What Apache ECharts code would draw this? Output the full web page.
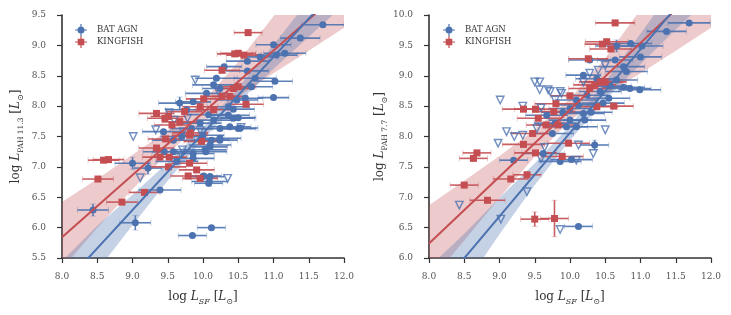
<!DOCTYPE html>
<html><head><meta charset="utf-8">
<script src="https://cdn.jsdelivr.net/npm/echarts@6/dist/echarts.min.js"></script>
<style>html,body{margin:0;padding:0;background:#fff}#c{width:731px;height:315px}</style>
</head><body><div id="c"></div>
<script>
// ---------- tick values ----------
const xTicks = [8.0, 8.5, 9.0, 9.5, 10.0, 10.5, 11.0, 11.5, 12.0];
const yTicksLeft = [5.5, 6.0, 6.5, 7.0, 7.5, 8.0, 8.5, 9.0, 9.5];
const yTicksRight = [6.0, 6.5, 7.0, 7.5, 8.0, 8.5, 9.0, 9.5, 10.0];

// ---------- LEFT panel (PAH 11.3) : [x, y, xerr, yerr] ----------
const leftBat = [
 [11.70,9.34,0.30,0.03],[11.38,9.12,0.28,0.03],[11.00,9.01,0.25,0.03],[11.16,8.87,0.30,0.03],
 [11.04,8.84,0.30,0.03],[10.81,8.81,0.25,0.03],[10.63,8.74,0.30,0.03],[10.30,8.65,0.25,0.03],
 [10.63,8.58,0.30,0.03],[10.19,8.46,0.30,0.03],[11.02,8.41,0.25,0.03],[10.74,8.46,0.30,0.03],
 [10.69,8.32,0.30,0.03],[11.00,8.14,0.22,0.03],[10.60,8.13,0.25,0.03],[10.48,8.10,0.30,0.03],
 [9.67,8.05,0.30,0.10],[9.86,8.07,0.25,0.03],[10.15,8.35,0.30,0.03],[10.24,8.29,0.25,0.03],
 [10.05,8.21,0.30,0.03],[10.36,7.99,0.30,0.03],[10.43,7.80,0.30,0.03],[10.50,7.63,0.25,0.03],
 [10.24,7.63,0.30,0.03],[10.38,7.66,0.30,0.03],[10.08,7.86,0.30,0.03],[9.96,7.72,0.30,0.03],
 [10.15,7.77,0.25,0.03],[9.77,7.94,0.30,0.03],[9.84,7.63,0.30,0.03],[10.00,7.52,0.30,0.03],
 [10.12,7.44,0.25,0.03],[10.24,7.44,0.25,0.03],[10.10,7.36,0.30,0.03],[10.03,7.28,0.30,0.03],
 [9.86,7.22,0.30,0.03],[9.58,7.25,0.30,0.03],[9.58,7.44,0.30,0.03],[9.70,7.50,0.30,0.03],
 [9.44,7.58,0.30,0.03],[10.04,7.25,0.30,0.03],[9.45,7.25,0.30,0.03],[9.86,7.14,0.30,0.03],
 [9.00,7.06,0.25,0.10],[9.22,6.98,0.20,0.10],[9.63,7.09,0.30,0.03],[10.01,6.85,0.25,0.03],
 [10.09,6.76,0.25,0.08],[9.39,6.62,0.30,0.03],[8.44,6.29,0.22,0.10],[9.04,6.08,0.22,0.12],
 [10.12,6.00,0.20,0.03],[9.85,5.87,0.20,0.03],[10.43,7.95,0.30,0.03],[10.50,7.81,0.25,0.03],
 [10.36,7.85,0.30,0.03],[10.53,7.64,0.25,0.03],[10.24,7.47,0.30,0.03],[10.10,7.33,0.25,0.03],
 [10.00,6.84,0.20,0.03],[10.10,6.84,0.20,0.03],[10.08,6.73,0.20,0.03]
];
const leftBatLimits = [
 [9.89,8.43],[9.01,7.50],[9.33,7.61],[9.52,7.89],[9.59,7.77],[9.78,7.80],[10.22,8.24],
 [9.96,7.60],[9.71,7.28],[9.11,6.82],[10.35,6.81],[9.72,7.58],[10.54,7.65],[9.68,7.22]
];
const leftKing = [
 [10.64,9.21,0.20,0.03],[10.50,8.87,0.25,0.03],[10.58,8.84,0.25,0.03],[10.45,8.86,0.25,0.03],
 [10.27,8.59,0.25,0.03],[10.61,8.03,0.25,0.03],[10.38,8.16,0.25,0.03],[10.43,8.29,0.25,0.03],
 [10.50,8.32,0.25,0.03],[10.27,8.16,0.25,0.03],[10.15,7.94,0.25,0.03],[9.96,7.99,0.25,0.03],
 [10.01,8.12,0.25,0.03],[9.34,7.88,0.25,0.03],[9.51,7.83,0.25,0.03],[9.67,7.74,0.25,0.03],
 [9.56,7.69,0.25,0.03],[9.74,7.91,0.25,0.03],[9.46,7.80,0.25,0.03],[9.82,7.56,0.25,0.03],
 [9.81,7.52,0.25,0.03],[9.98,7.42,0.25,0.03],[9.47,7.46,0.25,0.03],[9.34,7.31,0.25,0.03],
 [8.66,7.12,0.22,0.03],[8.59,7.11,0.22,0.03],[8.51,6.80,0.22,0.03],[8.85,6.42,0.22,0.03],
 [9.17,6.58,0.22,0.03],[9.39,7.16,0.25,0.03],[9.52,7.16,0.25,0.03],[9.51,7.00,0.25,0.03],
 [9.81,7.06,0.25,0.03],[9.91,6.95,0.25,0.03],[9.79,6.85,0.25,0.03],[9.96,6.81,0.25,0.03]
];
// fit lines and confidence bands (left)
const fitX = [8.0, 12.0];
const leftKingFitY = [5.84, 9.94];
const leftBatFitY = [5.03, 10.07];
const bandX = [8.0, 8.5, 9.0, 9.5, 10.0, 10.5, 11.0, 11.5, 12.0];
const leftKingUpper = [6.42, 6.80, 7.20, 7.60, 8.07, 8.73, 9.48, 10.23, 10.99];
const leftKingLower = [5.32, 6.00, 6.63, 7.22, 7.74, 8.15, 8.54, 8.91, 9.29];
const leftBatUpper = [5.45, 6.03, 6.54, 7.07, 7.65, 8.30, 9.01, 9.74, 10.47];
const leftBatLower = [4.53, 5.29, 6.04, 6.77, 7.45, 8.06, 8.61, 9.14, 9.67];

// ---------- RIGHT panel (PAH 7.7) ----------
const rightBat = [
 [11.69,9.87,0.30,0.03],[11.37,9.73,0.28,0.03],[10.86,9.53,0.30,0.03],[11.02,9.49,0.30,0.03],
 [10.66,9.49,0.30,0.10],[11.00,9.31,0.30,0.03],[10.64,9.26,0.25,0.03],[10.28,9.26,0.30,0.03],
 [10.76,9.15,0.30,0.03],[10.80,9.07,0.30,0.03],[10.19,9.01,0.25,0.03],[10.66,8.93,0.30,0.03],
 [10.57,8.83,0.30,0.03],[10.76,8.81,0.30,0.03],[10.99,8.77,0.30,0.03],[10.85,8.79,0.30,0.03],
 [10.43,8.74,0.30,0.03],[10.24,8.68,0.30,0.03],[10.09,8.60,0.30,0.03],[10.47,8.55,0.30,0.03],
 [10.00,8.46,0.30,0.03],[10.19,8.38,0.30,0.03],[9.67,8.35,0.30,0.03],[10.00,8.27,0.30,0.03],
 [10.21,8.27,0.30,0.03],[10.09,8.16,0.30,0.03],[9.95,8.16,0.30,0.03],[9.79,8.22,0.30,0.03],
 [10.35,7.86,0.20,0.08],[9.62,7.72,0.30,0.03],[9.20,7.61,0.20,0.03],[9.86,7.59,0.30,0.03],
 [10.02,7.62,0.30,0.03],[10.12,6.52,0.20,0.03],[10.55,8.63,0.30,0.03],[10.38,8.95,0.30,0.03],
 [9.90,8.40,0.30,0.03],[10.12,8.52,0.30,0.03],[10.30,8.40,0.30,0.03],[9.75,8.05,0.30,0.03]
];
const rightBatLimits = [
 [9.01,8.60],[8.98,7.89],[9.10,8.08],[9.21,8.00],[9.33,8.02],[9.33,8.50],[9.53,8.13],
 [9.50,8.90],[9.57,8.90],[9.57,8.77],[9.72,8.74],[9.86,8.74],[9.79,8.60],[10.19,8.90],
 [10.28,9.04],[10.40,9.09],[10.50,9.17],[10.50,8.11],[10.12,7.86],[10.33,7.72],[9.59,7.64],
 [10.09,7.61],[9.39,7.09],[8.43,6.87],[9.02,6.64],[9.86,6.47],[9.59,8.47],[9.64,7.82],
 [9.88,8.71],[9.69,8.77]
];
const rightKing = [
 [10.64,9.87,0.28,0.03],[10.52,9.56,0.30,0.03],[10.46,9.52,0.25,0.03],[10.58,9.44,0.30,0.03],
 [10.26,9.28,0.28,0.03],[10.43,8.90,0.30,0.03],[10.50,8.90,0.30,0.03],[10.28,8.79,0.30,0.03],
 [10.35,8.85,0.30,0.03],[10.62,8.50,0.28,0.03],[10.38,8.49,0.30,0.03],[10.00,8.67,0.28,0.03],
 [9.80,8.54,0.30,0.03],[9.77,8.41,0.30,0.03],[9.34,8.45,0.30,0.03],[9.51,8.45,0.30,0.03],
 [9.55,8.30,0.30,0.03],[9.66,8.19,0.28,0.03],[9.83,8.19,0.30,0.03],[9.47,8.05,0.30,0.03],
 [9.34,7.87,0.30,0.03],[9.98,7.89,0.30,0.03],[9.51,7.73,0.30,0.03],[9.89,7.67,0.30,0.03],
 [8.68,7.73,0.20,0.03],[8.63,7.64,0.20,0.03],[8.50,7.20,0.20,0.03],[9.16,7.30,0.25,0.03],
 [9.39,7.37,0.20,0.03],[8.83,6.95,0.25,0.03],[9.50,6.64,0.20,0.12],[9.78,6.65,0.20,0.30]
];
const rightKingFitY = [6.24, 10.64];
const rightBatFitY = [5.31, 10.81];
const rightKingUpper = [6.87, 7.27, 7.68, 8.11, 8.62, 9.29, 10.09, 10.89, 11.69];
const rightKingLower = [5.59, 6.29, 6.99, 7.67, 8.26, 8.69, 9.04, 9.41, 9.79];
const rightBatUpper = [5.85, 6.40, 6.99, 7.56, 8.18, 8.90, 9.69, 10.50, 11.31];
const rightBatLower = [4.66, 5.54, 6.39, 7.20, 7.94, 8.60, 9.19, 9.76, 10.31];

// ---------- styling ----------
const BLUE = '#4C72B0', RED = '#C44E52';
const BLUE_BAND = 'rgba(76,114,176,0.32)', RED_BAND = 'rgba(196,78,82,0.30)';
const SERIF = 'DejaVu Serif';

function makeErr(color){
  return function(params, api){
    const x=api.value(0), y=api.value(1), xe=api.value(2), ye=api.value(3);
    const L=api.coord([x-xe,y]), R=api.coord([x+xe,y]);
    const T=api.coord([x,y+ye]), B=api.coord([x,y-ye]);
    const bar={stroke:color,lineWidth:1.6,opacity:0.9};
    const cap={stroke:color,lineWidth:1,opacity:0.3};
    const k=3;
    return {type:'group',children:[
      {type:'line',shape:{x1:L[0],y1:L[1],x2:R[0],y2:R[1]},style:bar},
      {type:'line',shape:{x1:T[0],y1:T[1],x2:B[0],y2:B[1]},style:bar},
      {type:'line',shape:{x1:L[0],y1:L[1]-k,x2:L[0],y2:L[1]+k},style:cap},
      {type:'line',shape:{x1:R[0],y1:R[1]-k,x2:R[0],y2:R[1]+k},style:cap},
      {type:'line',shape:{x1:T[0]-k,y1:T[1],x2:T[0]+k,y2:T[1]},style:cap},
      {type:'line',shape:{x1:B[0]-k,y1:B[1],x2:B[0]+k,y2:B[1]},style:cap}
    ]};
  };
}
function makeBand(xs, up, lo, fill){
  return function(params, api){
    const pts=[];
    for(let i=0;i<xs.length;i++) pts.push(api.coord([xs[i],up[i]]));
    for(let i=xs.length-1;i>=0;i--) pts.push(api.coord([xs[i],lo[i]]));
    return {type:'polygon',shape:{points:pts},style:{fill:fill}};
  };
}
const zip = (xs, ys) => xs.map((v,i)=>[v, ys[i]]);

function panelSeries(idx, bat, lim, king, kFit, bFit, kUp, kLo, bUp, bLo){
  const ax = {xAxisIndex:idx, yAxisIndex:idx};
  return [
    Object.assign({type:'custom', name:'kband'+idx, clip:true, z:1, silent:true,
      renderItem: makeBand(bandX,kUp,kLo,RED_BAND), data:[[bandX[0],kUp[0]]]}, ax),
    Object.assign({type:'custom', name:'bband'+idx, clip:true, z:1, silent:true,
      renderItem: makeBand(bandX,bUp,bLo,BLUE_BAND), data:[[bandX[0],bUp[0]]]}, ax),
    Object.assign({type:'custom', name:'berr'+idx, clip:true, z:2,
      renderItem: makeErr(BLUE), data: bat}, ax),
    Object.assign({type:'custom', name:'kerr'+idx, clip:true, z:2,
      renderItem: makeErr(RED), data: king}, ax),
    Object.assign({type:'scatter', name:'BAT AGN', z:3, symbol:'circle', symbolSize:7,
      itemStyle:{color:BLUE, opacity:1}, data: bat.map(d=>[d[0],d[1]])}, ax),
    Object.assign({type:'scatter', name:'BAT AGN limits', z:3, symbol:'triangle', symbolRotate:180, symbolSize:7.5,
      itemStyle:{color:'rgba(255,255,255,0)', borderColor:BLUE, borderWidth:1.4}, data: lim}, ax),
    Object.assign({type:'scatter', name:'KINGFISH', z:3, symbol:'rect', symbolSize:7,
      itemStyle:{color:RED, opacity:1}, data: king.map(d=>[d[0],d[1]])}, ax),
    Object.assign({type:'line', name:'kfit'+idx, z:4, showSymbol:false, symbol:'none', silent:true,
      lineStyle:{color:RED,width:2}, data: zip(fitX,kFit)}, ax),
    Object.assign({type:'line', name:'bfit'+idx, z:4, showSymbol:false, symbol:'none', silent:true,
      lineStyle:{color:BLUE,width:2}, data: zip(fitX,bFit)}, ax)
  ];
}

const richName = {
  n:{fontFamily:SERIF,fontSize:12,color:'#333',lineHeight:18,verticalAlign:'middle'},
  i:{fontFamily:SERIF,fontSize:12,fontStyle:'italic',color:'#333',lineHeight:18,verticalAlign:'middle'},
  s:{fontFamily:SERIF,fontSize:8,fontStyle:'italic',color:'#333',lineHeight:9,verticalAlign:'bottom'},
  r:{fontFamily:SERIF,fontSize:7.5,color:'#333',lineHeight:9,verticalAlign:'bottom'}
};
function xAxisCfg(idx){
  return {type:'value', gridIndex:idx, min:xTicks[0], max:xTicks[xTicks.length-1], interval:0.5,
    name:'{n|log }{i|L}{s|SF}{n| [}{i|L}{s|⊙}{n|]}', nameLocation:'middle', nameGap:30,
    nameTextStyle:{rich:richName},
    axisLine:{onZero:false,lineStyle:{color:'#333',width:1.6}},
    axisTick:{show:true,length:5,lineStyle:{color:'#333',width:1.2}},
    axisLabel:{margin:14,fontFamily:SERIF,fontSize:9,color:'#555',formatter:v=>v.toFixed(1)},
    splitLine:{show:false}};
}
function yAxisCfg(idx, ticks, sub){
  return {type:'value', gridIndex:idx, min:ticks[0], max:ticks[ticks.length-1], interval:0.5,
    name:'{n|log }{i|L}{r|'+sub+'}{n| [}{i|L}{s|⊙}{n|]}', nameLocation:'middle', nameRotate:90, nameGap:37,
    nameTextStyle:{rich:richName},
    axisLine:{onZero:false,lineStyle:{color:'#333',width:1.6}},
    axisTick:{show:true,length:5,lineStyle:{color:'#333',width:1.2}},
    axisLabel:{margin:16,fontFamily:SERIF,fontSize:9,color:'#555',formatter:v=>v.toFixed(1)},
    splitLine:{show:false}};
}
const iconCircle = 'path://M0,5.4H12V6.6H0Z M5.4,0H6.6V12H5.4Z M9.5,6A3.5,3.5,0,1,1,2.5,6A3.5,3.5,0,1,1,9.5,6Z';
const iconSquare = 'path://M0,5.4H12V6.6H0Z M5.4,0H6.6V12H5.4Z M2.7,2.7H9.3V9.3H2.7Z';
function legendCfg(left){
  return {left:left, top:19, orient:'vertical', itemWidth:12, itemHeight:12, itemGap:0,
    selectedMode:false,
    textStyle:{fontFamily:SERIF,fontSize:8.5,color:'#333',padding:[0,0,0,5]},
    data:[{name:'BAT AGN',icon:iconCircle},{name:'KINGFISH',icon:iconSquare}]};
}

const chart = echarts.init(document.getElementById('c'), null, {renderer:'canvas'});
chart.setOption({
  animation:false,
  backgroundColor:'#fff',
  grid:[{left:62,top:15,width:282,height:243},{left:429,top:15,width:282,height:243}],
  xAxis:[xAxisCfg(0), xAxisCfg(1)],
  yAxis:[yAxisCfg(0,yTicksLeft,'PAH 11.3'), yAxisCfg(1,yTicksRight,'PAH 7.7')],
  legend:[legendCfg(70), legendCfg(438)],
  series:[].concat(
    panelSeries(0,leftBat,leftBatLimits,leftKing,leftKingFitY,leftBatFitY,leftKingUpper,leftKingLower,leftBatUpper,leftBatLower),
    panelSeries(1,rightBat,rightBatLimits,rightKing,rightKingFitY,rightBatFitY,rightKingUpper,rightKingLower,rightBatUpper,rightBatLower)
  )
});
</script></body></html>
